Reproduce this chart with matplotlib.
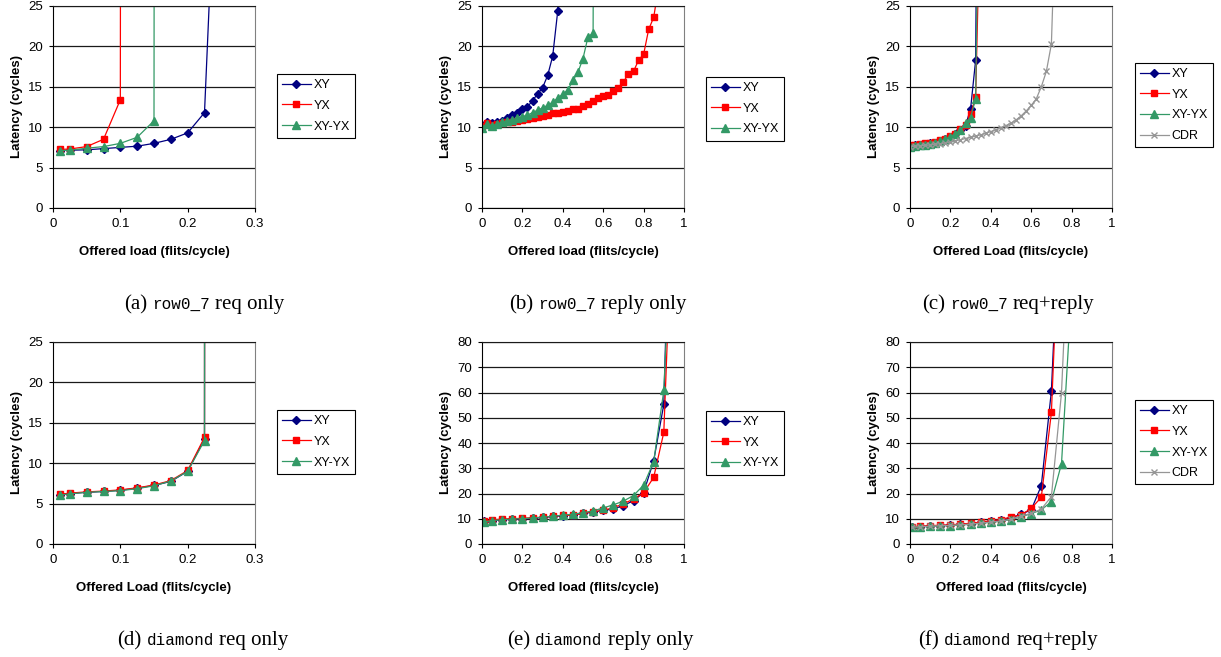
import numpy as np
import matplotlib
matplotlib.use('Agg')
import matplotlib.pyplot as plt
from matplotlib.ticker import MultipleLocator, FuncFormatter

plt.rcParams['font.family'] = ['Liberation Sans', 'DejaVu Sans']

W, H = 1221, 657

# ---- (a) row0_7 req only ----
A_X_XY = [0.01, 0.025, 0.05, 0.075, 0.1, 0.125, 0.15, 0.175, 0.2, 0.225, 0.25]
A_XY = [7.1, 7.15, 7.2, 7.35, 7.5, 7.65, 8.0, 8.5, 9.3, 11.8, 60]
A_X_YX = [0.01, 0.025, 0.05, 0.075, 0.1, 0.101]
A_YX = [7.25, 7.3, 7.6, 8.5, 13.4, 100]
A_X_XYYX = [0.01, 0.025, 0.05, 0.075, 0.1, 0.125, 0.15, 0.151]
A_XYYX = [7.1, 7.15, 7.4, 7.6, 8.0, 8.75, 10.8, 100]

# ---- (b) row0_7 reply only ----
B_X_XY = [0, 0.025, 0.05, 0.075, 0.1, 0.125, 0.15, 0.175, 0.2, 0.225, 0.25,
          0.275, 0.3, 0.325, 0.35, 0.375, 0.385]
B_XY = [10.1, 10.6, 10.5, 10.6, 10.8, 11.1, 11.5, 11.8, 12.2, 12.5, 13.3,
        14.1, 14.9, 16.4, 18.8, 24.4, 100]
B_X_YX = [0, 0.025, 0.05, 0.075, 0.1, 0.125, 0.15, 0.175, 0.2, 0.225, 0.25,
          0.275, 0.3, 0.325, 0.35, 0.375, 0.4, 0.425, 0.45, 0.475, 0.5,
          0.525, 0.55, 0.575, 0.6, 0.625, 0.65, 0.675, 0.7, 0.725, 0.75,
          0.775, 0.8, 0.825, 0.85, 0.875, 0.9]
B_YX = [10.1, 10.5, 10.3, 10.4, 10.5, 10.6, 10.7, 10.8, 10.9, 11.0, 11.1,
        11.3, 11.4, 11.5, 11.7, 11.8, 11.9, 12.0, 12.2, 12.3, 12.6,
        12.9, 13.2, 13.6, 13.8, 14.0, 14.5, 14.9, 15.6, 16.6, 16.9,
        18.3, 19.0, 22.1, 23.6, 27.5, 100]
B_X_XYYX = [0, 0.025, 0.05, 0.075, 0.1, 0.125, 0.15, 0.175, 0.2, 0.225, 0.25,
            0.275, 0.3, 0.325, 0.35, 0.375, 0.4, 0.425, 0.45, 0.475, 0.5,
            0.525, 0.55, 0.56]
B_XYYX = [9.9, 10.4, 10.2, 10.4, 10.6, 10.8, 10.9, 11.1, 11.3, 11.5, 11.8,
          12.1, 12.4, 12.7, 13.1, 13.6, 14.1, 14.6, 15.8, 16.8, 18.5,
          21.2, 21.6, 100]

# ---- (c) row0_7 req+reply ----
C_X = [0, 0.025, 0.05, 0.075, 0.1, 0.125, 0.15, 0.175, 0.2, 0.225, 0.25,
       0.275, 0.3, 0.325, 0.35]
C_XY = [7.7, 7.75, 7.8, 7.9, 8.0, 8.1, 8.3, 8.5, 8.8, 9.1, 9.6, 10.2, 12.3, 18.3, 100]
C_YX = [7.8, 7.85, 7.9, 8.0, 8.1, 8.2, 8.4, 8.6, 8.9, 9.2, 9.8, 10.3, 11.6, 13.7, 40]
C_XYYX = [7.6, 7.7, 7.75, 7.85, 7.95, 8.05, 8.25, 8.5, 8.8, 9.2, 9.6, 10.5, 11.2, 13.5, 60]
C_X_CDR = [0, 0.025, 0.05, 0.075, 0.1, 0.125, 0.15, 0.175, 0.2, 0.225, 0.25,
           0.275, 0.3, 0.325, 0.35, 0.375, 0.4, 0.425, 0.45, 0.475, 0.5,
           0.525, 0.55, 0.575, 0.6, 0.625, 0.65, 0.675, 0.7, 0.725]
C_CDR = [7.6, 7.65, 7.7, 7.75, 7.8, 7.9, 7.95, 8.05, 8.15, 8.3, 8.45,
         8.6, 8.75, 8.9, 9.05, 9.25, 9.45, 9.7, 9.95, 10.2, 10.5,
         10.9, 11.4, 12.0, 12.7, 13.5, 15.0, 16.9, 20.3, 40]

# ---- (d) diamond req only ----
D_X = [0.01, 0.025, 0.05, 0.075, 0.1, 0.125, 0.15, 0.175, 0.2, 0.225, 0.2255]
D_XY = [6.1, 6.25, 6.4, 6.5, 6.65, 6.9, 7.25, 7.75, 9.0, 13.0, 100]
D_YX = [6.15, 6.3, 6.45, 6.55, 6.7, 6.95, 7.3, 7.85, 9.1, 13.2, 100]
D_XYYX = [6.05, 6.2, 6.4, 6.5, 6.6, 6.85, 7.2, 7.8, 9.0, 12.8, 100]

# ---- (e) diamond reply only ----
E_X = [0.01, 0.05, 0.1, 0.15, 0.2, 0.25, 0.3, 0.35, 0.4, 0.45, 0.5, 0.55,
       0.6, 0.65, 0.7, 0.75, 0.8, 0.85, 0.9, 0.95]
E_XY = [9.0, 9.3, 9.6, 9.8, 10.0, 10.2, 10.5, 10.9, 11.2, 11.6, 12.1, 12.6,
        13.3, 13.9, 15.2, 17.2, 20.3, 33.0, 55.3, 200]
E_YX = [9.0, 9.5, 9.9, 10.0, 10.2, 10.4, 10.6, 11.0, 11.3, 11.4, 12.2, 12.8,
        13.3, 14.4, 15.9, 17.8, 20.3, 26.4, 44.2, 150]
E_XYYX = [8.7, 9.3, 9.6, 9.9, 10.0, 10.3, 10.6, 11.0, 11.4, 11.8, 12.4, 13.1,
          14.3, 15.5, 17.0, 19.2, 23.3, 32.6, 60.8, 150]

# ---- (f) diamond req+reply ----
F_X = [0.01, 0.05, 0.1, 0.15, 0.2, 0.25, 0.3, 0.35, 0.4, 0.45, 0.5, 0.55,
       0.6, 0.65, 0.7, 0.75, 0.8]
F_XY = [6.8, 6.9, 7.2, 7.3, 7.5, 7.8, 8.1, 8.6, 9.0, 9.5, 10.3, 11.8,
        13.5, 23.1, 60.6, 150]
F_YX = [6.9, 7.0, 7.3, 7.4, 7.6, 7.9, 8.2, 8.7, 9.2, 9.7, 10.7, 11.5,
        14.1, 18.5, 52.1, 150]
F_XYYX = [6.6, 6.7, 7.0, 7.1, 7.3, 7.5, 7.8, 8.2, 8.6, 9.0, 9.7, 10.8,
          12.0, 13.5, 16.8, 31.8, 100]
F_CDR = [6.7, 6.8, 7.1, 7.2, 7.4, 7.6, 7.9, 8.3, 8.7, 9.1, 9.8, 11.0,
         12.2, 13.8, 18.8, 59.9, 150]

STYLE = {
    'XY':    dict(color='#000080', marker='D', ms=4.3),
    'YX':    dict(color='#FF0000', marker='s', ms=4.8),
    'XY-YX': dict(color='#339966', marker='^', ms=5.8),
    'CDR':   dict(color='#969696', marker='x', ms=5.0),
}

fig = plt.figure(figsize=(W / 100, H / 100), dpi=100)


def px_axes(left, top, right, bottom):
    return fig.add_axes([left / W, 1 - bottom / H, (right - left) / W, (bottom - top) / H])


def panel(ax, series, xmax, xstep, ymax, ystep, xlabel, leg_xy):
    for name, x, y in series:
        st = STYLE[name]
        ax.plot(x, y, color=st['color'], lw=0.9, marker=st['marker'], ms=st['ms'],
                mfc=st['color'], mec=st['color'], mew=1.0, label=name, clip_on=True)
    ax.set_xlim(0, xmax)
    ax.set_ylim(0, ymax)
    ax.xaxis.set_major_locator(MultipleLocator(xstep))
    ax.yaxis.set_major_locator(MultipleLocator(ystep))
    ax.xaxis.set_major_formatter(FuncFormatter(lambda v, p: '%g' % round(v, 3)))
    ax.grid(axis='y', color='#1a1a1a', lw=0.9)
    ax.set_axisbelow(True)
    ax.tick_params(direction='out', length=3, width=0.8, labelsize=9.5, pad=4)
    ax.spines['right'].set_color('#808080')
    ax.spines['top'].set_color('#1a1a1a')
    ax.set_xlabel(xlabel, fontsize=9.5, fontweight='bold')
    ax.set_ylabel('Latency (cycles)', fontsize=9.5, fontweight='bold')
    ax.xaxis.set_label_coords(0.5, -0.19)
    ax.yaxis.set_label_coords(-0.15, 0.5)
    ax.legend(loc='upper left', bbox_to_anchor=(leg_xy[0] / W, 1 - leg_xy[1] / H),
              bbox_transform=fig.transFigure, fontsize=9, numpoints=1,
              handlelength=2.3, handletextpad=0.25, labelspacing=0.7,
              borderpad=0.4, borderaxespad=0, fancybox=False,
              edgecolor='black', framealpha=1).get_frame().set_linewidth(0.8)


ax_a = px_axes(53, 6, 255, 208)
panel(ax_a, [('XY', A_X_XY, A_XY), ('YX', A_X_YX, A_YX), ('XY-YX', A_X_XYYX, A_XYYX)],
      0.3, 0.1, 25, 5, 'Offered load (flits/cycle)', (277, 74))

ax_b = px_axes(482, 6, 684, 208)
panel(ax_b, [('XY', B_X_XY, B_XY), ('YX', B_X_YX, B_YX), ('XY-YX', B_X_XYYX, B_XYYX)],
      1, 0.2, 25, 5, 'Offered load (flits/cycle)', (706, 77))

ax_c = px_axes(910, 6, 1112, 208)
panel(ax_c, [('XY', C_X, C_XY), ('YX', C_X, C_YX), ('XY-YX', C_X, C_XYYX),
             ('CDR', C_X_CDR, C_CDR)],
      1, 0.2, 25, 5, 'Offered Load (flits/cycle)', (1135, 63))

ax_d = px_axes(53, 342, 255, 544)
panel(ax_d, [('XY', D_X, D_XY), ('YX', D_X, D_YX), ('XY-YX', D_X, D_XYYX)],
      0.3, 0.1, 25, 5, 'Offered Load (flits/cycle)', (277, 410))

ax_e = px_axes(482, 342, 684, 544)
panel(ax_e, [('XY', E_X, E_XY), ('YX', E_X, E_YX), ('XY-YX', E_X, E_XYYX)],
      1, 0.2, 80, 10, 'Offered load (flits/cycle)', (706, 411))

ax_f = px_axes(910, 342, 1112, 544)
panel(ax_f, [('XY', F_X[:16], F_XY), ('YX', F_X[:16], F_YX), ('XY-YX', F_X, F_XYYX),
             ('CDR', F_X, F_CDR)],
      1, 0.2, 80, 10, 'Offered load (flits/cycle)', (1135, 400))

# captions: serif label + monospace name + serif rest
SERIF = ['Liberation Serif', 'DejaVu Serif']
MONO = ['Liberation Mono', 'DejaVu Sans Mono']
CAPTIONS = [
    (204, 309, '(a)', 'row0_7', 'req only'),
    (598, 309, '(b)', 'row0_7', 'reply only'),
    (1008, 309, '(c)', 'row0_7', 'req+reply'),
    (203, 645, '(d)', 'diamond', 'req only'),
    (600, 645, '(e)', 'diamond', 'reply only'),
    (1008, 645, '(f)', 'diamond', 'req+reply'),
]
renderer = fig.canvas.get_renderer()
for xc, yb, lab, mono, rest in CAPTIONS:
    parts = [fig.text(0, 1 - yb / H, lab, family=SERIF, fontsize=15, va='baseline'),
             fig.text(0, 1 - yb / H, mono, family=MONO, fontsize=11.5, va='baseline'),
             fig.text(0, 1 - yb / H, rest, family=SERIF, fontsize=15, va='baseline')]
    widths = [t.get_window_extent(renderer).width for t in parts]
    gap = 5
    x = xc - (sum(widths) + 2 * gap) / 2
    for t, w in zip(parts, widths):
        t.set_x(x / W)
        x += w + gap

fig.savefig('out.png', dpi=100)
